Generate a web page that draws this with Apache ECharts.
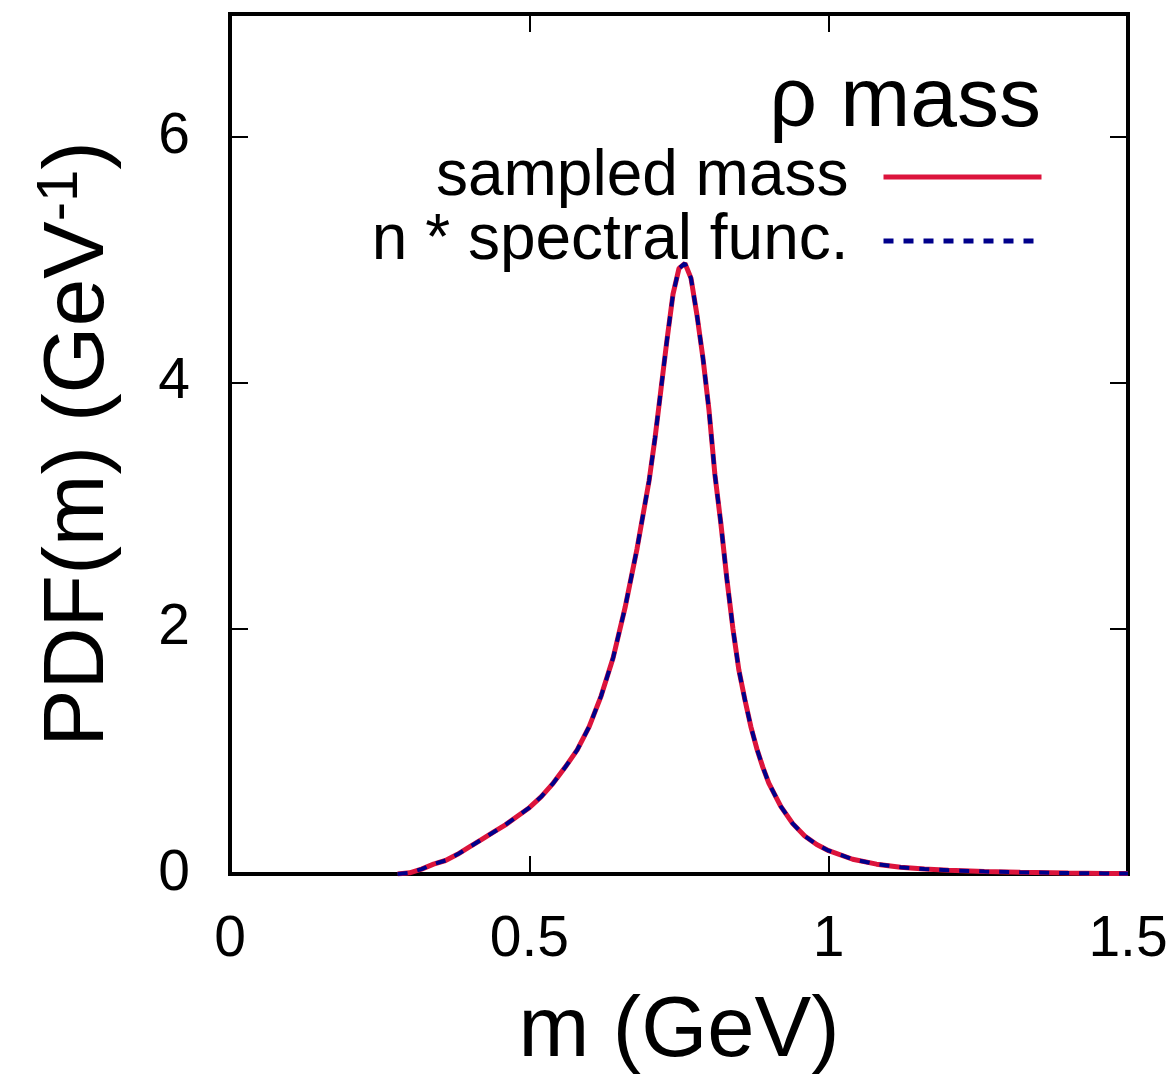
<!DOCTYPE html>
<html>
<head>
<meta charset="utf-8">
<script src="https://cdn.jsdelivr.net/npm/echarts@6/dist/echarts.min.js"></script>
<style>
html,body{margin:0;padding:0;background:#fff;}
#c{width:1176px;height:1080px;}
</style>
</head>
<body>
<div id="c"></div>
<script>
// mass values (GeV)
var massM = [0.28,0.30,0.32,0.34,0.36,0.38,0.40,0.42,0.44,0.46,0.48,0.50,0.52,0.54,0.56,0.58,0.60,0.62,0.64,0.66,0.68,0.70,0.71,0.72,0.73,0.74,0.75,0.76,0.77,0.78,0.79,0.80,0.81,0.82,0.83,0.84,0.85,0.86,0.87,0.88,0.89,0.90,0.92,0.94,0.96,0.98,1.00,1.04,1.08,1.12,1.16,1.20,1.26,1.32,1.40,1.46,1.50];
// sampled mass histogram (GeV^-1)
var sampledPDF = [0,0.01,0.04,0.08,0.11,0.16,0.22,0.28,0.34,0.40,0.47,0.54,0.63,0.74,0.87,1.01,1.20,1.45,1.76,2.17,2.65,3.20,3.55,3.95,4.35,4.72,4.93,4.97,4.85,4.55,4.20,3.78,3.25,2.85,2.40,2.00,1.66,1.42,1.20,1.02,0.87,0.74,0.55,0.41,0.31,0.24,0.19,0.12,0.08,0.055,0.04,0.03,0.02,0.014,0.008,0.005,0.004];
// n * spectral function
var spectralPDF = [0,0.01,0.04,0.08,0.11,0.16,0.22,0.28,0.34,0.40,0.47,0.54,0.63,0.74,0.87,1.01,1.20,1.45,1.76,2.17,2.65,3.20,3.55,3.95,4.35,4.72,4.93,4.97,4.85,4.55,4.20,3.78,3.25,2.85,2.40,2.00,1.66,1.42,1.20,1.02,0.87,0.74,0.55,0.41,0.31,0.24,0.19,0.12,0.08,0.055,0.04,0.03,0.02,0.014,0.008,0.005,0.004];
var xTicks = [0, 0.5, 1, 1.5];
var yTicks = [0, 2, 4, 6];
var seriesNames = ['sampled mass', 'n * spectral func.'];
var titleText = 'ρ mass';

function pairs(xs, ys){ return xs.map(function(x,i){ return [x, ys[i]]; }); }
var FONT = '"Liberation Sans", Arial, sans-serif';
var tickStyle = {inside:true, length:18, lineStyle:{color:'#000', width:2}};
var noLine = {show:false, onZero:false};

var chart = echarts.init(document.getElementById('c'), null, {renderer:'canvas'});
var tickLabelFmt = function(v){ return String(v); };
chart.setOption({
  animation:false,
  backgroundColor:'#fff',
  textStyle:{fontFamily:FONT, color:'#000'},
  title:{
    text:titleText, right:130, top:56,
    textStyle:{fontFamily:FONT, fontSize:84, fontWeight:'normal', color:'#000'}
  },
  legend:{
    data:seriesNames,
    orient:'vertical', align:'right', right:127, top:140,
    itemWidth:158, itemHeight:20, itemGap:0,
    itemStyle:{opacity:0},
    lineStyle:{width:5},
    textStyle:{fontFamily:FONT, fontSize:64, color:'#000', padding:[0,30,0,0]}
  },
  grid:{left:230, right:48, top:14, bottom:203, show:true, borderColor:'#000', borderWidth:4, containLabel:false},
  xAxis:[{
    type:'value', min:xTicks[0], max:xTicks[xTicks.length-1], interval:0.5,
    name:'m (GeV)', nameLocation:'middle', nameGap:116,
    nameTextStyle:{fontFamily:FONT, fontSize:85, color:'#000'},
    axisLine:noLine, splitLine:{show:false},
    axisTick:tickStyle,
    axisLabel:{fontFamily:FONT, fontSize:57, color:'#000', margin:38, formatter:tickLabelFmt}
  },{
    type:'value', position:'top', min:xTicks[0], max:xTicks[xTicks.length-1], interval:0.5,
    axisLine:noLine, splitLine:{show:false},
    axisTick:tickStyle,
    axisLabel:{show:false}
  }],
  yAxis:[{
    type:'value', min:0, max:7, interval:2,
    name:'{a|PDF(m) (GeV}{s|-1}{a|)}', nameLocation:'middle', nameGap:104, nameRotate:90,
    nameTextStyle:{rich:{
      a:{fontFamily:FONT, fontSize:86, color:'#000'},
      s:{fontFamily:FONT, fontSize:58, color:'#000', verticalAlign:'top', padding:[0,0,36,0]}
    }},
    axisLine:noLine, splitLine:{show:false},
    axisTick:tickStyle,
    axisLabel:{fontFamily:FONT, fontSize:57, color:'#000', margin:40, showMaxLabel:false, formatter:tickLabelFmt}
  },{
    type:'value', position:'right', min:0, max:7, interval:2,
    axisLine:noLine, splitLine:{show:false},
    axisTick:tickStyle,
    axisLabel:{show:false}
  }],
  series:[{
    name:seriesNames[0], type:'line', xAxisIndex:0, yAxisIndex:0,
    data:pairs(massM, sampledPDF), symbol:'none', smooth:false,
    lineStyle:{color:'#dc143c', width:5}, itemStyle:{color:'#dc143c'}, z:2
  },{
    name:seriesNames[1], type:'line', xAxisIndex:0, yAxisIndex:0,
    data:pairs(massM, spectralPDF), symbol:'none', smooth:false,
    lineStyle:{color:'#00008b', width:4, type:[10,10]}, itemStyle:{color:'#00008b'}, z:3
  }]
});
</script>
</body>
</html>
